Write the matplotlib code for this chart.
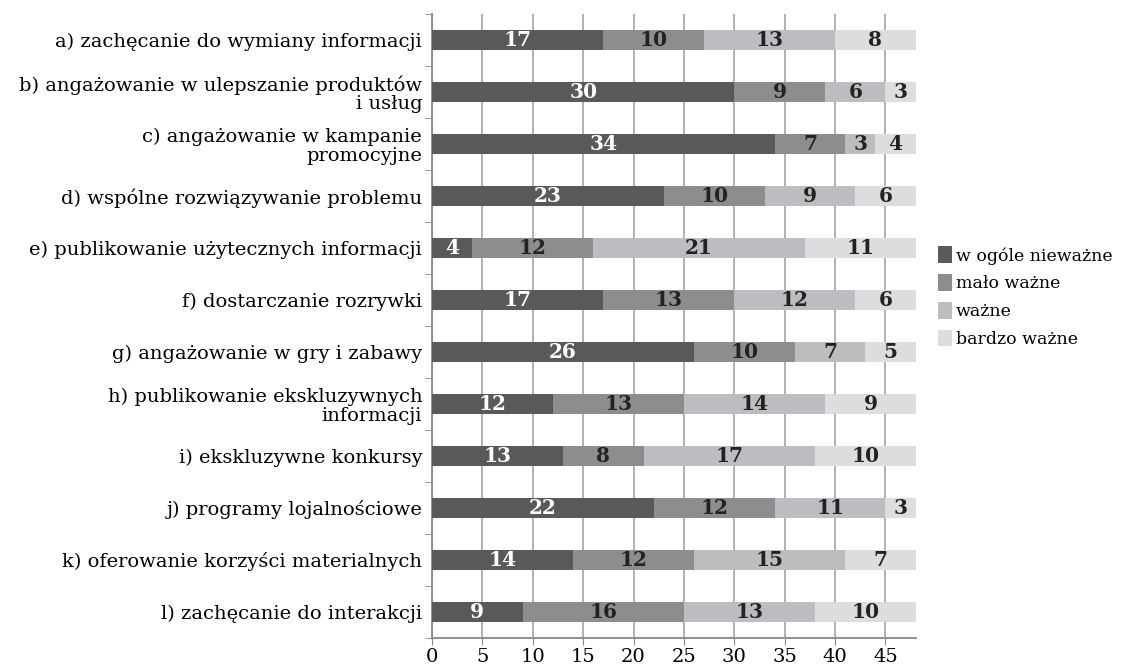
import matplotlib.pyplot as plt
import numpy as np

categories = [
    "a) zachęcanie do wymiany informacji",
    "b) angażowanie w ulepszanie produktów\ni usług",
    "c) angażowanie w kampanie\npromocyjne",
    "d) wspólne rozwiązywanie problemu",
    "e) publikowanie użytecznych informacji",
    "f) dostarczanie rozrywki",
    "g) angażowanie w gry i zabawy",
    "h) publikowanie ekskluzywnych\ninformacji",
    "i) ekskluzywne konkursy",
    "j) programy lojalnościowe",
    "k) oferowanie korzyści materialnych",
    "l) zachęcanie do interakcji",
]
series_names = ["w ogóle nieważne", "mało ważne", "ważne", "bardzo ważne"]
w_ogole_niewazne = [17, 30, 34, 23, 4, 17, 26, 12, 13, 22, 14, 9]
malo_wazne = [10, 9, 7, 10, 12, 13, 10, 13, 8, 12, 12, 16]
wazne = [13, 6, 3, 9, 21, 12, 7, 14, 17, 11, 15, 13]
bardzo_wazne = [8, 3, 4, 6, 11, 6, 5, 9, 10, 3, 7, 10]

colors = ["#58595b", "#8c8d8f", "#bcbdc0", "#dcdddf"]
text_colors = ["white", "#222222", "#222222", "#222222"]

plt.rcParams['font.family'] = ['DejaVu Serif']

fig = plt.figure(figsize=(11.29, 6.70), dpi=100)
ax = fig.add_axes([0.3826, 0.048, 0.4285, 0.931])

y = np.arange(len(categories))
left = np.zeros(len(categories))
for vals, name, c, tc in zip([w_ogole_niewazne, malo_wazne, wazne, bardzo_wazne],
                             series_names, colors, text_colors):
    vals = np.array(vals)
    bars = ax.barh(y, vals, left=left, height=0.39, color=c, label=name, zorder=3)
    for b, v in zip(bars, vals):
        ax.text(b.get_x() + b.get_width() / 2, b.get_y() + b.get_height() / 2, str(v),
                ha='center', va='center', color=tc, fontsize=14.5, fontweight='bold', zorder=4)
    left += vals

ax.set_xlim(0, 48)
ax.set_ylim(len(categories) - 0.5, -0.5)
ax.set_xticks(np.arange(0, 50, 5))
ax.set_yticks(y)
ax.set_yticklabels(categories, fontsize=14, linespacing=1.05)
ax.set_yticks(np.arange(-0.5, len(categories), 1), minor=True)
ax.tick_params(axis='y', which='major', length=0, pad=7)
ax.tick_params(axis='y', which='minor', length=5, color='#888888')
ax.tick_params(axis='x', length=5, color='#888888', labelsize=14, pad=2)
ax.grid(axis='x', color='#ababab', linewidth=1.3, zorder=0)
for s in ['top', 'right']:
    ax.spines[s].set_visible(False)
for s in ['left', 'bottom']:
    ax.spines[s].set_color('#888888')
    ax.spines[s].set_linewidth(1.3)

ax.legend(loc='center left', bbox_to_anchor=(1.045, 0.546), frameon=False, fontsize=12.5,
          borderaxespad=0, borderpad=0,
          handlelength=0.85, handleheight=1.1, handletextpad=0.2, labelspacing=0.55)

fig.savefig('out.png', dpi=100)
